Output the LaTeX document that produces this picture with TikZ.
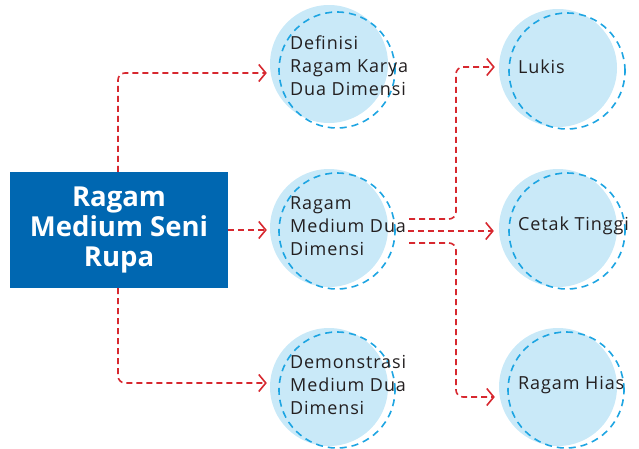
\documentclass[tikz,border=0pt]{standalone}
\usepackage{fontspec}
\setmainfont{Open Sans}
\newfontfamily\lblfont[LetterSpace=5]{Open Sans}
\usetikzlibrary{arrows.meta}
\definecolor{boxblue}{HTML}{0067B1}
\definecolor{cfill}{HTML}{C9E9F8}
\definecolor{cdash}{HTML}{1EA5E2}
\definecolor{cred}{HTML}{D7282F}
\definecolor{ink}{HTML}{231F20}
\begin{document}
\begin{tikzpicture}[x=1pt,y=-1pt,
 disc/.style={circle,fill=cfill,minimum size=118pt,inner sep=0pt},
 ring/.style={circle,draw=cdash,line width=1.6pt,dash pattern=on 7pt off 5pt,minimum size=116pt,inner sep=0pt},
 lbl/.style={anchor=west,align=left,text=ink,font=\lblfont\fontsize{18}{23}\selectfont,inner sep=0pt},
 conn/.style={draw=cred,line width=1.6pt,dash pattern=on 6pt off 4pt,rounded corners=7pt,-{Straight Barb[length=7pt,width=17pt,line width=1.6pt]}},
 mainbox/.style={fill=boxblue,minimum width=218pt,minimum height=116pt,inner sep=0pt,text=white,align=center,font=\fontsize{27.5}{30}\selectfont\bfseries}]
\useasboundingbox (0,0) rectangle (639,448);
% main box
\node[mainbox] (main) at (119,230) {Ragam\\Medium Seni\\Rupa};
% discs
\node[disc] (c1) at (329,64) {};
\node[disc] (c2) at (329,228) {};
\node[disc] (c3) at (329,387) {};
\node[disc] (c4) at (558,68) {};
\node[disc] (c5) at (558,228) {};
\node[disc] (c6) at (558,387) {};
% rings
\node[ring] (r1) at (337,70) {};
\node[ring] (r2) at (337,231) {};
\node[ring] (r3) at (337,390) {};
\node[ring] (r4) at (567,71) {};
\node[ring] (r5) at (567,231) {};
\node[ring] (r6) at (566,390) {};
% labels
\node[lbl] (t1) at (290,66) {Definisi\\Ragam Karya\\Dua Dimensi};
\node[lbl] (t2) at (290,226) {Ragam\\Medium Dua\\Dimensi};
\node[lbl] (t3) at (290,385) {Demonstrasi\\Medium Dua\\Dimensi};
\node[lbl] (t4) at (518,67) {Lukis};
\node[lbl] (t5) at (518,226) {Cetak Tinggi};
\node[lbl] (t6) at (518,385) {Ragam Hias};
% left connectors
\coordinate (k1) at (118,73);
\coordinate (k3) at (118,383);
\draw[conn] (main.north -| k1) -- (k1) -- ([xshift=-3pt]c1.west |- k1);
\draw[conn] (main.east) -- ([xshift=-3pt]c2.west |- main.east);
\draw[conn] (main.south -| k3) -- (k3) -- ([xshift=-3pt]c3.west |- k3);
% right connectors
\coordinate (s1) at (409,219);
\coordinate (s2) at (408,231);
\coordinate (s3) at (409,243);
\coordinate (j1) at (456,67);
\coordinate (j3) at (456,397);
\draw[conn] (s1) -- (j1 |- s1) -- (j1) -- ([xshift=-4pt]c4.west |- j1);
\draw[conn] (s2) -- ([xshift=-5pt]c5.west |- s2);
\draw[conn] (s3) -- (j3 |- s3) -- (j3) -- ([xshift=-4pt]c6.west |- j3);
\end{tikzpicture}
\end{document}
